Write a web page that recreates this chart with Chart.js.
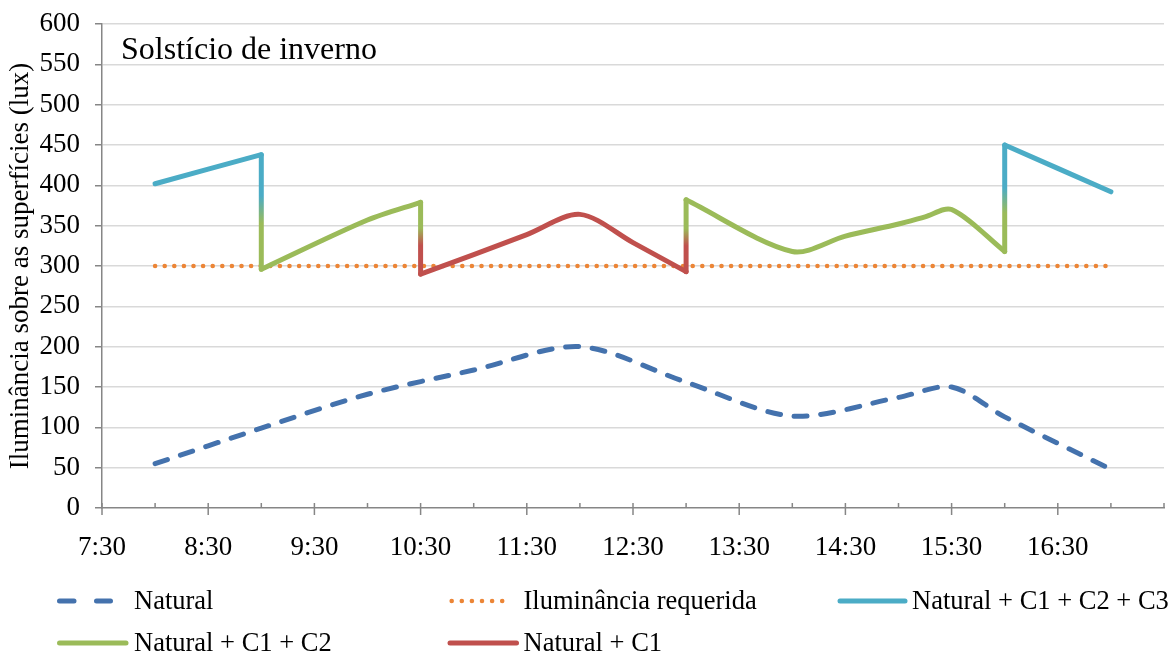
<!DOCTYPE html>
<html lang="pt">
<head>
<meta charset="utf-8">
<title>Solstício de inverno</title>
<script src="https://cdn.jsdelivr.net/npm/chart.js@4.4.1/dist/chart.umd.min.js"></script>
<style>
  html, body { margin: 0; padding: 0; background: #ffffff; }
  #quadro { position: relative; width: 1173px; height: 655px; }
</style>
</head>
<body>
<div id="quadro"><canvas id="grafico" width="1173" height="655"></canvas></div>
<script>
// Rótulos do eixo horizontal (horas em valor decimal: 8.5 = 8:30)
const rotulosHoras = ['7:30', '8:30', '9:30', '10:30', '11:30', '12:30', '13:30', '14:30', '15:30', '16:30'];

// Iluminância natural (lux)
const horasNatural = [8, 9, 10, 11, 12, 13, 14, 15, 15.5, 16, 17];
const luxNatural   = [55, 99, 141, 171, 200, 156, 114, 137, 150, 113, 48];

// Iluminância requerida (lux)
const horasRequerida = [8, 17];
const luxRequerida   = [300, 300];

// Natural + C1 + C2 + C3: início da manhã e fim da tarde
const horasC123Manha = [8, 9];
const luxC123Manha   = [402, 438];
const horasC123Tarde = [16, 17];
const luxC123Tarde   = [450, 392];

// Natural + C1 + C2
const horasC12Manha = [9, 10, 10.5];
const luxC12Manha   = [296, 357, 379];
const horasC12Tarde = [13, 14, 14.5, 15, 15.25, 15.5, 16];
const luxC12Tarde   = [382, 318, 337, 352, 361, 370, 318];

// Natural + C1
const horasC1 = [10.5, 11, 11.5, 12, 12.5, 13];
const luxC1   = [290, 314, 339, 364, 329, 293];

const AZUL_NATURAL = '#4472AD';
const LARANJA = '#EC8536';
const AZUL = '#4BACC6';
const VERDE = '#9BBB59';
const VERMELHO = '#C0504D';
const CINZA_EIXO = '#868686';
const FONTE = "'Liberation Serif', 'Times New Roman', serif";

const pontos = (h, v) => h.map((x, i) => ({ x, y: v[i] }));
const comIntervalo = (hA, vA, hB, vB) => [
  ...pontos(hA, vA),
  { x: (hA[hA.length - 1] + hB[0]) / 2, y: null },
  ...pontos(hB, vB)
];
const ultimo = (h, v) => ({ x: h[h.length - 1], y: v[v.length - 1] });
const primeiro = (h, v) => ({ x: h[0], y: v[0] });

// Mudanças de regime de iluminação (ligações verticais entre as séries)
const trocas = [
  { de: ultimo(horasC123Manha, luxC123Manha), para: primeiro(horasC12Manha, luxC12Manha), c0: AZUL, c1: VERDE },
  { de: ultimo(horasC12Manha, luxC12Manha), para: primeiro(horasC1, luxC1), c0: VERDE, c1: VERMELHO },
  { de: ultimo(horasC1, luxC1), para: primeiro(horasC12Tarde, luxC12Tarde), c0: VERMELHO, c1: VERDE },
  { de: ultimo(horasC12Tarde, luxC12Tarde), para: primeiro(horasC123Tarde, luxC123Tarde), c0: VERDE, c1: AZUL }
];

const ctx2d = document.getElementById('grafico').getContext('2d');

const serieSuave = {
  pointRadius: 0,
  pointHoverRadius: 0,
  borderWidth: 5,
  borderCapStyle: 'round',
  borderJoinStyle: 'round',
  tension: 0.3,
  spanGaps: false,
  fill: false
};

const datasets = [
  Object.assign({}, serieSuave, {
    label: 'Natural', data: pontos(horasNatural, luxNatural),
    borderColor: AZUL_NATURAL, borderWidth: 5, borderDash: [13, 13.7], order: 9
  }),
  Object.assign({}, serieSuave, {
    label: 'Iluminância requerida', data: pontos(horasRequerida, luxRequerida),
    borderColor: LARANJA, borderWidth: 4.6, borderDash: [0, 9.6], tension: 0, order: 10
  }),
  Object.assign({}, serieSuave, {
    label: 'Natural + C1 + C2 + C3', data: comIntervalo(horasC123Manha, luxC123Manha, horasC123Tarde, luxC123Tarde),
    borderColor: AZUL, order: 3
  }),
  Object.assign({}, serieSuave, {
    label: 'Natural + C1 + C2', data: comIntervalo(horasC12Manha, luxC12Manha, horasC12Tarde, luxC12Tarde),
    borderColor: VERDE, order: 2
  }),
  Object.assign({}, serieSuave, {
    label: 'Natural + C1', data: pontos(horasC1, luxC1),
    borderColor: VERMELHO, order: 1
  })
];

trocas.forEach(t => {
  datasets.push({
    label: '', data: [t.de, t.para], order: 0,
    pointRadius: 0, pointHoverRadius: 0, borderWidth: 5, tension: 0,
    borderCapStyle: 'round', borderJoinStyle: 'round',
    borderColor: t.c0,
    segment: {
      borderColor: (s) => {
        const g = ctx2d.createLinearGradient(0, s.p0.y, 0, s.p1.y);
        g.addColorStop(0, t.c0);
        g.addColorStop(0.36, t.c0);
        g.addColorStop(0.6, t.c1);
        g.addColorStop(1, t.c1);
        return g;
      }
    }
  });
});

// Legenda desenhada sob o gráfico, em duas linhas e três colunas
const itensLegenda = [
  { ds: 0, x0: 59.5, x1: 110.5, xt: 134, y: 601, traco: [14.5, 22.5], largura: 5 },
  { ds: 1, x0: 451.7, x1: 503, xt: 523.5, y: 601, traco: [0, 10.1], largura: 4.6 },
  { ds: 2, x0: 840, x1: 905, xt: 912, y: 601, traco: [], largura: 5 },
  { ds: 3, x0: 59.5, x1: 126, xt: 134, y: 643, traco: [], largura: 5 },
  { ds: 4, x0: 450, x1: 516.5, xt: 523.5, y: 643, traco: [], largura: 5 }
];

const decoracao = {
  id: 'decoracao',
  afterDraw(chart) {
    const ctx = chart.ctx;
    const sx = chart.scales.x;
    const base = chart.chartArea.bottom;
    ctx.save();

    // marcas do eixo horizontal: meia-hora acima, horas rotuladas cruzam o eixo
    ctx.strokeStyle = CINZA_EIXO;
    ctx.lineWidth = 1.5;
    sx.ticks.forEach(t => {
      const px = sx.getPixelForValue(t.value);
      const rotulada = Math.abs((t.value - 7.5) % 1) < 1e-6 && t.value < 17;
      ctx.beginPath();
      ctx.moveTo(px, base - 5);
      ctx.lineTo(px, rotulada ? base + 7 : base);
      ctx.stroke();
    });

    // título dentro da área do gráfico
    ctx.fillStyle = '#000000';
    ctx.font = '32px ' + FONTE;
    ctx.textAlign = 'left';
    ctx.textBaseline = 'alphabetic';
    ctx.fillText('Solstício de inverno', 121, 59);

    // legenda
    itensLegenda.forEach(it => {
      const ds = chart.data.datasets[it.ds];
      ctx.strokeStyle = ds.borderColor;
      ctx.lineWidth = it.largura;
      ctx.lineCap = 'round';
      ctx.setLineDash(it.traco);
      ctx.beginPath();
      ctx.moveTo(it.x0, it.y);
      ctx.lineTo(it.x1, it.y);
      ctx.stroke();
      ctx.setLineDash([]);
      ctx.fillStyle = '#000000';
      ctx.font = '26.5px ' + FONTE;
      ctx.textBaseline = 'middle';
      ctx.fillText(ds.label, it.xt, it.y + 1);
    });
    ctx.restore();
  }
};

new Chart(ctx2d, {
  type: 'line',
  data: { datasets },
  plugins: [decoracao],
  options: {
    responsive: false,
    animation: false,
    devicePixelRatio: 1,
    events: [],
    layout: { padding: { top: 24, right: 9, left: 0, bottom: 0 } },
    plugins: {
      legend: { display: false },
      tooltip: { enabled: false },
      title: { display: false }
    },
    scales: {
      x: {
        type: 'linear',
        min: 7.5,
        max: 17.5,
        afterFit: (s) => { s.height = 147; s.paddingLeft = 0; s.paddingRight = 0; },
        grid: { display: true, drawOnChartArea: false, drawTicks: false },
        border: { display: true, color: CINZA_EIXO, width: 1.5 },
        ticks: {
          stepSize: 0.5,
          autoSkip: false,
          maxRotation: 0,
          padding: 24,
          color: '#000000',
          font: { family: FONTE, size: 27 },
          callback: (v) => {
            const k = v - 7.5;
            const r = Math.round(k);
            if (Math.abs(k - r) < 1e-6 && r < rotulosHoras.length) return rotulosHoras[r];
            return '';
          }
        }
      },
      y: {
        min: 0,
        max: 600,
        afterFit: (s) => { s.width = 102; s.paddingTop = 0; s.paddingBottom = 0; },
        grid: {
          color: (c) => (c.tick && c.tick.value === 0 ? 'rgba(0,0,0,0)' : '#D9D9D9'),
          lineWidth: 1.5,
          tickColor: CINZA_EIXO,
          tickLength: 7,
          tickWidth: 1.5
        },
        border: { display: true, color: CINZA_EIXO, width: 1.5 },
        ticks: {
          stepSize: 50,
          padding: 15,
          color: '#000000',
          font: { family: FONTE, size: 27 }
        },
        title: {
          display: true,
          text: 'Iluminância sobre as superfícies (lux)',
          color: '#000000',
          font: { family: FONTE, size: 27 },
          padding: { top: 5, bottom: 0 }
        }
      }
    }
  }
});
</script>
</body>
</html>
